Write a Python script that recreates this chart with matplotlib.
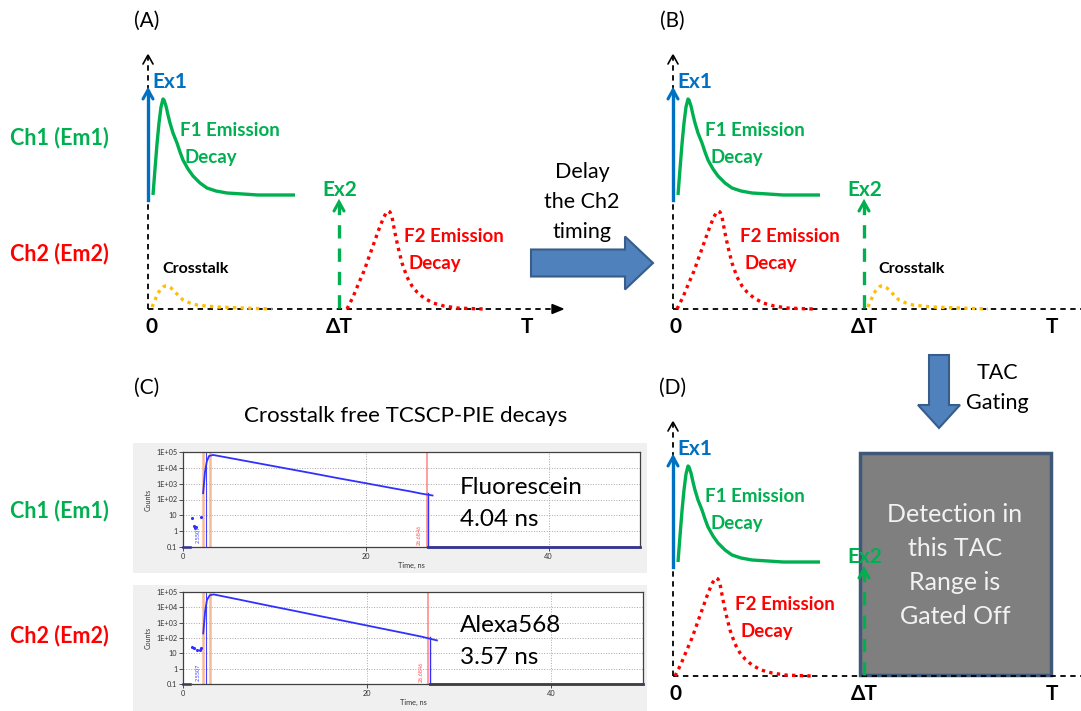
import matplotlib
matplotlib.use('Agg')
import matplotlib.pyplot as plt
import matplotlib.patches as mpatches
import matplotlib.transforms as mtransforms
from matplotlib.ticker import NullLocator

plt.rcParams['font.family'] = ['Lato', 'DejaVu Sans']

W, H = 1081, 711
GREEN = '#00B050'
RED = '#FF0000'
BLUE = '#0070C0'
GOLD = '#FFC000'
ARROW_FILL = '#4F81BD'
ARROW_EDGE = '#385D8A'

# schematic curve shapes (pixels from the panel origin, y upward)
f1_t = [5, 7, 9, 11, 13, 15, 16, 18, 20, 22, 25, 29, 32, 35, 40, 45, 52, 59,
        68, 79, 95, 110, 147]
f1_y = [114, 140, 165, 186, 202, 210, 209, 203, 194, 186, 176, 166, 157, 149,
        140, 133, 126, 121, 118, 116, 115, 114, 114]
f2_t = [0, 6, 11, 17, 22, 27, 32, 36, 39, 41, 43, 45, 48, 51, 55, 60, 65, 70,
        77, 86, 97, 110, 122, 137]
f2_y = [0, 12, 24, 38, 52, 66, 80, 90, 96, 98, 97, 92, 76, 62, 46, 32, 23, 17,
        11, 6, 3, 1, 0.5, 0]
xtalk_t = [4, 7, 10, 13, 15, 17, 19, 21, 23, 25, 27, 31, 35, 42, 49, 58, 69, 95, 124]
xtalk_y = [2, 9, 16, 20, 22, 23, 23, 22, 21, 19, 17, 13, 9, 6, 4, 3, 2, 1, 0]
DT = 191          # position of the second excitation
T_END = 379       # position of the "T" label
AXIS_H = 254
EX1_RANGE = (109, 219)
EX2_TOP = 107

# TCSPC decays (ns, counts)
fluo_pre_t = [1.0, 1.2, 1.3, 1.4, 2.0]
fluo_pre_c = [7, 2, 1.6, 1.8, 8]
fluo_t = [2.2, 2.4, 2.6, 2.85, 3.3, 5, 8, 11, 14, 17, 20, 23, 25, 26, 26.8, 27.3]
fluo_c = [250, 5000, 25000, 56000, 65000, 43000, 20500, 9800, 4700, 2200,
          1070, 510, 315, 240, 200, 180]
alexa_pre_t = [1.0, 1.2, 1.5, 1.8, 2.0]
alexa_pre_c = [25, 22, 16, 17, 24]
alexa_t = [2.2, 2.4, 2.6, 2.9, 3.3, 6, 9, 12, 15, 18, 21, 24, 26, 27, 27.6]
alexa_c = [200, 5000, 30000, 60000, 70000, 33000, 14000, 6100, 2600, 1140,
           490, 212, 120, 85, 70]
gate_start, gate_end = 2.5507, 26.6846
ytick_vals = [0.1, 1, 10, 1e2, 1e3, 1e4, 1e5]
ytick_labels = ['0.1', '1', '10', '1E+02', '1E+03', '1E+04', '1E+05']

fig = plt.figure(figsize=(W / 100, H / 100), dpi=100)
ax = fig.add_axes([0, 0, 1, 1])
ax.set_xlim(0, W)
ax.set_ylim(H, 0)
ax.axis('off')


def chevron(tr, x, y, color, lw):
    ax.plot([x - 5, x, x + 5], [y - 9, y, y - 9], color=color, lw=lw,
            transform=tr, solid_capstyle='round', solid_joinstyle='miter')


def panel(ox, oy, f2_off, xt_off=None, x_len=415, f2_lab=67, gated=False):
    tr = mtransforms.Affine2D().scale(1, -1).translate(ox, oy) + ax.transData
    # axes
    ax.plot([0, 0], [0, AXIS_H], color='black', lw=1.3, dashes=(3, 2.5), transform=tr)
    chevron(tr, 0, AXIS_H, 'black', 1.2)
    ax.plot([0, x_len], [0, 0], color='black', lw=1.3, dashes=(3, 2.5), transform=tr)
    ax.add_patch(mpatches.Polygon([[x_len - 11, 4.5], [x_len, 0], [x_len - 11, -4.5]],
                                  closed=True, color='black', transform=tr))
    if gated:
        ax.add_patch(mpatches.Rectangle((187, 1), 191, 222, transform=tr,
                                        facecolor='#7F7F7F', edgecolor='#3F5878', lw=2.5))
        lines = ['Detection in', 'this TAC', 'Range is', 'Gated Off']
        for i, s in enumerate(lines):
            ax.text(282, 161 - 33.7 * i, s, transform=tr, ha='center', va='center',
                    fontsize=18, color='#F2F2F2')
    # Ex1
    ax.plot([0, 0], [EX1_RANGE[0], EX1_RANGE[1] - 1], color=BLUE, lw=2.4, transform=tr)
    chevron(tr, 0, EX1_RANGE[1], BLUE, 2.2)
    ax.text(4, 227, 'Ex1', transform=tr, ha='left', va='center', fontsize=15,
            fontweight='bold', color=BLUE)
    # F1 decay
    ax.plot(f1_t, f1_y, color=GREEN, lw=2.4, transform=tr, solid_capstyle='butt',
            solid_joinstyle='round')
    ax.text(32, 179, 'F1 Emission', transform=tr, ha='left', va='center',
            fontsize=13.5, fontweight='bold', color=GREEN)
    ax.text(37, 152, 'Decay', transform=tr, ha='left', va='center',
            fontsize=13.5, fontweight='bold', color=GREEN)
    # F2 decay
    ax.plot([t + f2_off for t in f2_t], f2_y, color=RED, lw=2.4, dashes=(1, 1.3),
            transform=tr)
    ax.text(f2_off + f2_lab - 5, 72, 'F2 Emission', transform=tr, ha='left', va='center',
            fontsize=13.5, fontweight='bold', color=RED)
    ax.text(f2_off + f2_lab, 45, 'Decay', transform=tr, ha='left', va='center',
            fontsize=13.5, fontweight='bold', color=RED)
    # Ex2
    ax.plot([DT, DT], [1, EX2_TOP - 2], color=GREEN, lw=2.4, dashes=(4, 3), transform=tr)
    chevron(tr, DT, EX2_TOP, GREEN, 2.2)
    ax.text(DT + 1, 119, 'Ex2', transform=tr, ha='center', va='center', fontsize=15,
            fontweight='bold', color=GREEN)
    # crosstalk
    if xt_off is not None:
        ax.plot([t + xt_off for t in xtalk_t], xtalk_y, color=GOLD, lw=2.4,
                dashes=(1, 1.3), transform=tr)
        ax.text(xt_off + 14, 40, 'Crosstalk', transform=tr, ha='left', va='center',
                fontsize=11.5, fontweight='bold', color='black')
    # time labels
    for x, s in [(3, '0'), (DT, 'ΔT'), (T_END, 'T')]:
        ax.text(x, -18, s, transform=tr, ha='center', va='center', fontsize=15,
                fontweight='bold', color='black')


panel(148, 309, DT + 8, xt_off=0, x_len=415, f2_lab=62)
panel(673, 309, 4, xt_off=DT, x_len=420, f2_lab=68)
panel(673, 676, 2, xt_off=None, x_len=420, f2_lab=65, gated=True)

# panel letters and channel labels
for x, y, s in [(147, 21, '(A)'), (672, 21, '(B)'), (147, 388, '(C)'), (673, 388, '(D)')]:
    ax.text(x, y, s, ha='center', va='center', fontsize=15, color='black')
for y, s, c in [(138, 'Ch1 (Em1)', GREEN), (254, 'Ch2 (Em2)', RED),
                (511, 'Ch1 (Em1)', GREEN), (636, 'Ch2 (Em2)', RED)]:
    ax.text(10, y, s, ha='left', va='center', fontsize=15.5, fontweight='bold', color=c)

# block arrows
ax.add_patch(mpatches.FancyArrow(531, 263, 122, 0, width=27, head_width=53,
                                 head_length=28, length_includes_head=True,
                                 facecolor=ARROW_FILL, edgecolor=ARROW_EDGE, lw=1.5))
ax.add_patch(mpatches.FancyArrow(939, 355, 0, 73, width=20, head_width=42,
                                 head_length=23, length_includes_head=True,
                                 facecolor=ARROW_FILL, edgecolor=ARROW_EDGE, lw=1.5))
for i, s in enumerate(['Delay', 'the Ch2', 'timing']):
    ax.text(582, 172 + 30 * i, s, ha='center', va='center', fontsize=15.5, color='black')
for i, s in enumerate(['TAC', 'Gating']):
    ax.text(997, 373 + 30 * i, s, ha='center', va='center', fontsize=15.5, color='black')

ax.text(406, 416, 'Crosstalk free TCSCP-PIE decays', ha='center', va='center',
        fontsize=16, color='black')

# screenshot backgrounds for the two decay plots
ax.add_patch(mpatches.Rectangle((133, 443), 514, 130, facecolor='#F0F0F0', edgecolor='none'))
ax.add_patch(mpatches.Rectangle((133, 585), 514, 126, facecolor='#F0F0F0', edgecolor='none'))


def decay_plot(box, pre_t, pre_c, t, c, drop_t):
    l, top, r, b = box
    a = fig.add_axes([l / W, 1 - b / H, (r - l) / W, (b - top) / H])
    a.set_yscale('log')
    a.set_xlim(0, 50)
    a.set_ylim(0.1, 1e5)
    a.set_yticks(ytick_vals)
    a.set_yticklabels(ytick_labels)
    a.yaxis.set_minor_locator(NullLocator())
    a.set_xticks([0, 20, 40])
    a.grid(True, color='#A8A8A8', linestyle=':', lw=0.7)
    a.tick_params(labelsize=5.3, length=3, width=0.6, pad=1, colors='#333333')
    for sp in a.spines.values():
        sp.set_color('#404040')
        sp.set_linewidth(0.9)
    a.set_xlabel('Time, ns', fontsize=5.3, labelpad=2, color='#333333')
    a.set_ylabel('Counts', fontsize=5, labelpad=3, color='#333333')
    # gate / IRF markers
    a.axvline(2.2, color='#F6A97E', lw=1.8, alpha=0.8)
    a.axvline(2.95, color='#F6A97E', lw=1.8, alpha=0.8)
    a.axvline(gate_start, color='#4040FF', lw=0.8)
    a.axvline(gate_end, color='#FF7070', lw=1.2, alpha=0.8)
    a.text(gate_start - 0.9, 0.6, '%.4f' % gate_start, rotation=90, fontsize=4,
           color='#4040FF', ha='center', va='center')
    a.text(gate_end - 0.8, 0.6, '%.4f' % gate_end, rotation=90, fontsize=4,
           color='#FF5050', ha='center', va='center')
    # measured decay
    a.plot([0, pre_t[0] - 0.2], [0.1, 0.1], color='#2E2E9E', lw=1.8, clip_on=False)
    a.plot(pre_t, pre_c, '.', color='#3030FF', ms=2.5)
    a.plot(t, c, color='#3030FF', lw=1.3)
    a.plot([drop_t, drop_t], [c[-3], 0.1], color='#3030FF', lw=1.0)
    a.plot([drop_t, 50], [0.1, 0.1], color='#2E2E9E', lw=2.0, clip_on=False)
    return a


decay_plot((183, 452, 640, 547), fluo_pre_t, fluo_pre_c, fluo_t, fluo_c, 26.8)
decay_plot((183, 592, 643, 684), alexa_pre_t, alexa_pre_c, alexa_t, alexa_c, 26.9)

for x, y, s in [(460, 488, 'Fluorescein'), (460, 520, '4.04 ns'),
                (460, 625, 'Alexa568'), (460, 657, '3.57 ns')]:
    fig.text(x, y, s, transform=ax.transData, ha='left', va='center',
             fontsize=17.5, color='black', zorder=5)

fig.savefig('out.png', dpi=100)
